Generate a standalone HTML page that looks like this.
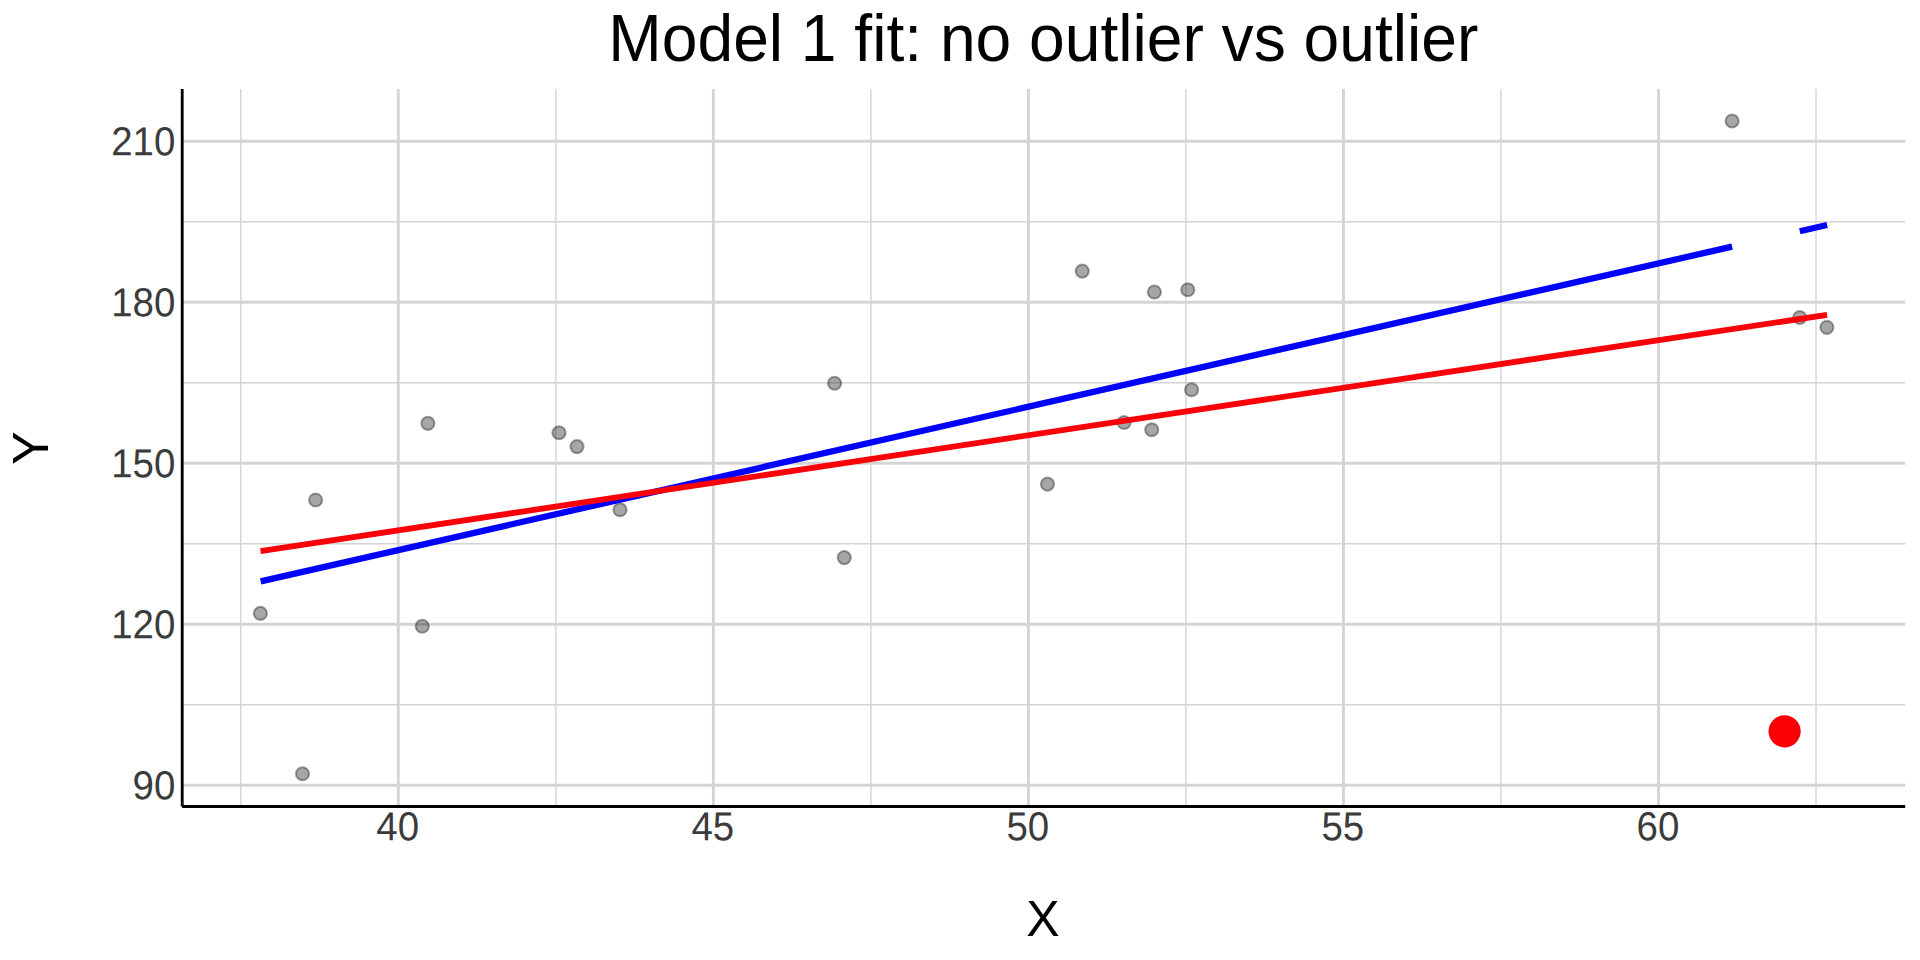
<!DOCTYPE html>
<html lang="en"><head><meta charset="utf-8"><title>Model 1 fit: no outlier vs outlier</title>
<style>html,body{margin:0;padding:0;background:#fff;}body{width:1920px;height:960px;overflow:hidden;}svg{display:block;}text{font-family:"Liberation Sans",sans-serif;}</style></head><body>
<svg width="1920" height="960" viewBox="0 0 1920 960">
<rect width="1920" height="960" fill="#ffffff"/>
<g stroke="#d4d4d4" stroke-width="1.42" fill="none">
<line x1="182.2" x2="1905.2" y1="704.70" y2="704.70"/>
<line x1="182.2" x2="1905.2" y1="543.70" y2="543.70"/>
<line x1="182.2" x2="1905.2" y1="382.70" y2="382.70"/>
<line x1="182.2" x2="1905.2" y1="221.70" y2="221.70"/>
<line y1="88.9" y2="806.45" x1="240.78" x2="240.78"/>
<line y1="88.9" y2="806.45" x1="555.83" x2="555.83"/>
<line y1="88.9" y2="806.45" x1="870.88" x2="870.88"/>
<line y1="88.9" y2="806.45" x1="1185.92" x2="1185.92"/>
<line y1="88.9" y2="806.45" x1="1500.97" x2="1500.97"/>
<line y1="88.9" y2="806.45" x1="1816.02" x2="1816.02"/>
</g>
<g stroke="#d4d4d4" stroke-width="2.85" fill="none">
<line x1="182.2" x2="1905.2" y1="785.20" y2="785.20"/>
<line x1="182.2" x2="1905.2" y1="624.20" y2="624.20"/>
<line x1="182.2" x2="1905.2" y1="463.20" y2="463.20"/>
<line x1="182.2" x2="1905.2" y1="302.20" y2="302.20"/>
<line x1="182.2" x2="1905.2" y1="141.20" y2="141.20"/>
<line y1="88.9" y2="806.45" x1="398.30" x2="398.30"/>
<line y1="88.9" y2="806.45" x1="713.35" x2="713.35"/>
<line y1="88.9" y2="806.45" x1="1028.40" x2="1028.40"/>
<line y1="88.9" y2="806.45" x1="1343.45" x2="1343.45"/>
<line y1="88.9" y2="806.45" x1="1658.50" x2="1658.50"/>
</g>
<g fill="#000" fill-opacity="0.35" stroke="#000" stroke-opacity="0.35" stroke-width="2.0">
<circle cx="260.4" cy="613.4" r="6.6"/>
<circle cx="302.5" cy="773.75" r="6.6"/>
<circle cx="315.6" cy="500.0" r="6.6"/>
<circle cx="422.25" cy="626.25" r="6.6"/>
<circle cx="427.9" cy="423.4" r="6.6"/>
<circle cx="559.0" cy="432.75" r="6.6"/>
<circle cx="577.0" cy="446.6" r="6.6"/>
<circle cx="620.0" cy="509.75" r="6.6"/>
<circle cx="834.6" cy="383.25" r="6.6"/>
<circle cx="844.25" cy="557.6" r="6.6"/>
<circle cx="1047.5" cy="484.1" r="6.6"/>
<circle cx="1082.25" cy="271.1" r="6.6"/>
<circle cx="1124.1" cy="422.5" r="6.6"/>
<circle cx="1151.75" cy="429.75" r="6.6"/>
<circle cx="1154.4" cy="292.0" r="6.6"/>
<circle cx="1187.75" cy="289.75" r="6.6"/>
<circle cx="1191.6" cy="389.75" r="6.6"/>
<circle cx="1732.1" cy="121.0" r="6.6"/>
<circle cx="1799.75" cy="317.5" r="6.6"/>
<circle cx="1826.9" cy="327.3" r="6.6"/>
</g>
<g stroke="#0000ff" stroke-width="6.3" fill="none" stroke-linecap="butt">
<line x1="260.7" y1="581.4" x2="1732.1" y2="246.66"/>
<line x1="1799.8" y1="231.26" x2="1827.1" y2="225.05"/>
</g>
<line x1="260.55" y1="551.1" x2="1827.1" y2="314.8" stroke="#fb0007" stroke-width="5.8" fill="none"/>
<circle cx="1784.6" cy="731.35" r="16.1" fill="#fb0007"/>
<g stroke="#000" stroke-width="2.85" fill="none"><line x1="182.2" x2="182.2" y1="88.9" y2="806.45"/><line x1="182.2" x2="1905.2" y1="806.45" y2="806.45"/></g>
<g fill="#3b3b3b" font-size="38.4px">
<text transform="translate(175.3,799.30) rotate(0.03) scale(1,1.05)" text-anchor="end">90</text>
<text transform="translate(175.3,638.30) rotate(0.03) scale(1,1.05)" text-anchor="end">120</text>
<text transform="translate(175.3,477.30) rotate(0.03) scale(1,1.05)" text-anchor="end">150</text>
<text transform="translate(175.3,316.30) rotate(0.03) scale(1,1.05)" text-anchor="end">180</text>
<text transform="translate(175.3,155.30) rotate(0.03) scale(1,1.05)" text-anchor="end">210</text>
<text transform="translate(397.70,840.3) rotate(0.03) scale(1,1.05)" text-anchor="middle">40</text>
<text transform="translate(712.75,840.3) rotate(0.03) scale(1,1.05)" text-anchor="middle">45</text>
<text transform="translate(1027.80,840.3) rotate(0.03) scale(1,1.05)" text-anchor="middle">50</text>
<text transform="translate(1342.85,840.3) rotate(0.03) scale(1,1.05)" text-anchor="middle">55</text>
<text transform="translate(1657.90,840.3) rotate(0.03) scale(1,1.05)" text-anchor="middle">60</text>
</g>
<text transform="translate(1043.3,61.0) scale(1,1.05)" text-anchor="middle" font-size="64.15px" fill="#000">Model 1 fit: no outlier vs outlier</text>
<text x="1043" y="936" text-anchor="middle" font-size="50px" fill="#000">X</text>
<text transform="translate(48.2,448.1) rotate(-90)" text-anchor="middle" font-size="50px" fill="#000">Y</text>
</svg></body></html>
